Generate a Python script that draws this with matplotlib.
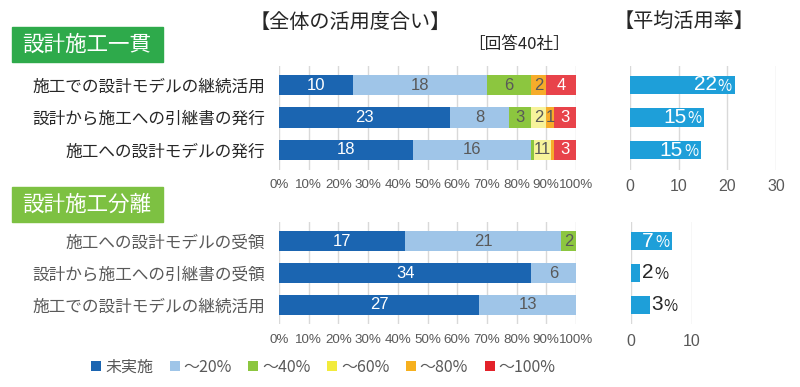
import numpy as np
import matplotlib.pyplot as plt
from matplotlib.patches import Rectangle
from matplotlib.lines import Line2D

plt.rcParams['font.family'] = ['Noto Sans CJK JP', 'DejaVu Sans']

# ---- data -------------------------------------------------------------------

series_names = ['未実施', '～20%', '～40%', '～60%', '～80%', '～100%']
series_colors = ['#1b65b1', '#9fc5e8', '#8cc63f', '#f7f39b', '#f6ac2a', '#e8434a']
legend_colors = ['#1b65b1', '#9fc5e8', '#8cc63f', '#f2eb3c', '#f6b01e', '#e3222a']
label_colors = ['white', '#595959', '#595959', '#595959', '#595959', 'white']

top_cats = ['施工での設計モデルの継続活用', '設計から施工への引継書の発行', '施工への設計モデルの発行']
top_none = [10, 23, 18]
top_20 = [18, 8, 16]
top_40 = [6, 3, 0.3]
top_60 = [0, 2, 2.4]
top_80 = [2, 1, 0.3]
top_100 = [4, 3, 3]
top_text_override = {(2, 3): '11'}

bot_cats = ['施工への設計モデルの受領', '設計から施工への引継書の受領', '施工での設計モデルの継続活用']
bot_none = [17, 34, 27]
bot_20 = [21, 6, 13]
bot_40 = [2, 0, 0]
bot_60 = [0, 0, 0]
bot_80 = [0, 0, 0]
bot_100 = [0, 0, 0]

top_rate = [21.5, 15.3, 14.6]
top_rate_labels = ['22', '15', '15']
bot_rate = [6.7, 1.5, 3.1]
bot_rate_labels = ['7', '2', '3']

pct_ticks = np.arange(0, 101, 10)
total = 40

# ---- figure -----------------------------------------------------------------

W, H = 800, 387
fig = plt.figure(figsize=(W / 100, H / 100), dpi=100)
tick_font = ['Liberation Sans', 'DejaVu Sans']


def ax_px(x0, y0, x1, y1):
    return fig.add_axes([x0 / W, 1 - y1 / H, (x1 - x0) / W, (y1 - y0) / H])


def style_axes(axes, ticks, ticklabels, size):
    for s in axes.spines.values():
        s.set_visible(False)
    axes.set_xticks(ticks)
    axes.set_xticklabels(ticklabels, family=tick_font)
    axes.tick_params(axis='x', length=0, labelsize=size, labelcolor='#595959', pad=7)
    axes.tick_params(axis='y', length=0)
    axes.grid(axis='x', color='#d9d9d9', linewidth=1)
    axes.set_axisbelow(True)


def stacked(axes, cats, series, overrides, cat_color):
    y = np.arange(len(cats))
    left = np.zeros(len(cats))
    for k, vals in enumerate(series):
        vals = np.array(vals, dtype=float)
        pct = vals / total * 100
        axes.barh(y, pct, left=left, height=0.62, color=series_colors[k], linewidth=0)
        for i, v in enumerate(vals):
            txt = overrides.get((i, k))
            if txt is None and v >= 1:
                txt = str(int(round(v)))
            if txt:
                axes.text(left[i] + pct[i] / 2, y[i], txt, ha='center', va='center',
                          fontsize=12, color=label_colors[k], family=tick_font)
        left += pct
    axes.set_xlim(0, 100)
    axes.set_ylim(len(cats) - 0.4, -0.6)
    style_axes(axes, pct_ticks, [f'{t}%' for t in pct_ticks], 9.6)
    axes.set_yticks(y)
    axes.set_yticklabels(cats, fontsize=12, color=cat_color)
    axes.tick_params(axis='y', pad=10)


def rates(axes, vals, labels, xmax, ticks, inside):
    y = np.arange(len(vals))
    axes.barh(y, vals, height=0.58, color='#1e9fd9', linewidth=0)
    for i, v in enumerate(vals):
        if inside[i]:
            axes.annotate('%', (v, y[i]), xytext=(-2, -1), textcoords='offset points',
                          ha='right', va='center', fontsize=11, color='white')
            axes.annotate(labels[i], (v, y[i]), xytext=(-13, 0), textcoords='offset points',
                          ha='right', va='center', fontsize=15, color='white',
                          family=tick_font)
        else:
            axes.annotate(labels[i], (v, y[i]), xytext=(1, 0), textcoords='offset points',
                          ha='left', va='center', fontsize=15, color='#262626',
                          family=tick_font)
            axes.annotate('%', (v, y[i]), xytext=(10, -1), textcoords='offset points',
                          ha='left', va='center', fontsize=11, color='#262626')
    axes.set_xlim(0, xmax)
    axes.set_ylim(len(vals) - 0.4, -0.6)
    style_axes(axes, ticks, [str(t) for t in ticks], 11.5)
    axes.set_yticks([])


ax1 = ax_px(279, 65.5, 576, 169.5)
stacked(ax1, top_cats, [top_none, top_20, top_40, top_60, top_80, top_100],
        top_text_override, '#262626')

ax2 = ax_px(279, 222, 576, 324)
stacked(ax2, bot_cats, [bot_none, bot_20, bot_40, bot_60, bot_80, bot_100],
        {}, '#595959')

ax3 = ax_px(630, 65.5, 776, 169.5)
rates(ax3, top_rate, top_rate_labels, 30, [0, 10, 20, 30], [True, True, True])

ax4 = ax_px(631, 222, 692, 324)
rates(ax4, bot_rate, bot_rate_labels, 10, [0, 10], [True, False, False])

# ---- headers ----------------------------------------------------------------

fig.text(350 / W, 1 - 22 / H, '【全体の活用度合い】', ha='center', va='center',
         fontsize=14.5, color='#262626')
fig.text(519 / W, 1 - 45 / H, '［回答40社］', ha='center', va='center',
         fontsize=12, color='#262626')
fig.text(684 / W, 1 - 21 / H, '【平均活用率】', ha='center', va='center',
         fontsize=14.5, color='#262626')

for (y0, y1, label, color) in [(27, 62, '設計施工一貫', '#2eaa4b'),
                               (187, 222, '設計施工分離', '#7dc142')]:
    fig.patches.append(Rectangle((12 / W, 1 - y1 / H), 151 / W, (y1 - y0) / H,
                                 transform=fig.transFigure, color=color, zorder=0))
    fig.text(87 / W, 1 - (y0 + y1) / 2 / H, label, ha='center', va='center',
             fontsize=15.5, color='white')

# ---- legend -----------------------------------------------------------------

handles = [Line2D([], [], marker='s', linestyle='none', markersize=7,
                  markerfacecolor=c, markeredgewidth=0) for c in legend_colors]
fig.legend(handles, series_names, loc='center', bbox_to_anchor=(323 / W, 1 - 367 / H),
           ncol=6, frameon=False, fontsize=11.5, handlelength=0.7, handletextpad=0.2,
           columnspacing=1.0, labelcolor='#595959')

fig.savefig('out.png', dpi=100)
